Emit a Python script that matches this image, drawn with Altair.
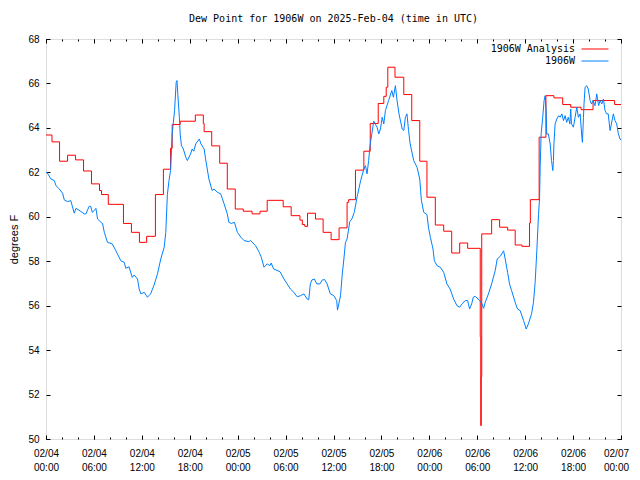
import altair as alt
import pandas as pd

# ---- data (hours since 2025-02-04 00:00 UTC) ----
red_hours = [0.0, 0.75, 1.7, 2.7, 3.7, 4.7, 5.7, 6.7, 6.95, 7.8, 9.7, 10.7, 11.7, 12.6,
             13.7, 14.7, 15.6, 15.8, 16.8, 18.7, 19.7, 19.8, 20.75, 21.75, 22.7, 23.7,
             24.7, 25.8, 26.8, 27.7, 29.7, 30.7, 31.8, 32.1, 32.4, 32.75, 33.75, 34.7,
             35.7, 36.7, 37.7, 37.9, 38.75, 39.8, 40.6, 41.6, 42.3, 42.6, 42.8, 43.7,
             44.8, 45.8, 46.8, 47.7, 48.75, 49.8, 50.8, 51.8, 52.8, 54.375, 54.44, 54.5,
             54.56, 55.8, 56.8, 57.8, 58.75, 59.6, 60.55, 60.65, 61.75, 62.6, 63.6, 64.7,
             65.7, 67.0, 68.5, 71.2, 72.0]
red_values = [63.68, 63.37, 62.5, 62.77, 62.56, 62.06, 61.48, 61.18, 61.0, 60.56, 59.7, 59.3,
              58.85, 59.12, 61.0, 62.14, 63.08, 64.15, 64.3, 64.58, 64.2, 63.83, 63.19, 62.41,
              61.25, 60.35, 60.25, 60.13, 60.25, 60.74, 60.45, 60.05, 59.85, 59.65, 59.57,
              60.16, 59.9, 59.3, 58.97, 59.5, 60.65, 60.77, 62.1, 62.95, 64.2, 65.1, 65.42,
              65.83, 66.73, 66.28, 65.5, 64.33, 62.5, 60.88, 59.63, 59.35, 58.37, 58.82,
              58.58, 54.6, 50.6, 52.8, 59.23, 59.87, 59.53, 59.4, 58.73, 58.67, 59.72, 60.77,
              63.58, 65.45, 65.35, 65.05, 64.93, 64.82, 65.23, 65.05, 65.05]

blue_hours = [0.0, 0.12, 0.62, 1.04, 1.25, 1.67, 2.08, 2.29, 2.7, 3.1, 3.54, 3.75, 4.37, 4.79,
              5.0, 5.4, 5.6, 5.8, 6.04, 6.25, 6.46, 6.88, 7.08, 7.3, 7.7, 8.3, 8.75, 9.37,
              9.8, 10.0, 10.4, 10.8, 11.04, 11.46, 11.67, 11.88, 12.3, 12.7, 13.1, 13.5,
              13.96, 14.37, 14.8, 15.0, 15.2, 15.4, 15.6, 15.8, 16.1, 16.3, 16.4, 16.5, 16.7,
              16.8, 16.96, 17.2, 17.5, 17.7, 18.1, 18.3, 18.5, 18.75, 19.2, 19.4, 19.8, 20.0,
              20.4, 20.8, 21.04, 21.46, 21.88, 22.3, 22.7, 22.9, 23.2, 23.6, 23.96, 24.4,
              24.8, 25.4, 25.6, 26.25, 26.7, 26.96, 27.3, 27.7, 28.04, 28.2, 28.5, 29.3,
              29.8, 30.2, 30.6, 31.04, 31.46, 31.88, 32.3, 32.7, 32.9, 33.1, 33.3, 33.6,
              33.9, 34.3, 34.6, 34.9, 35.2, 35.6, 36.04, 36.4, 36.5, 36.88, 37.1, 37.3, 37.5,
              37.7, 38.04, 38.3, 38.6, 38.96, 39.4, 39.8, 40.0, 40.2, 40.4, 40.6, 40.8, 41.04,
              41.46, 41.67, 41.88, 42.1, 42.3, 42.5, 42.9, 43.3, 43.5, 43.75, 43.96, 44.2,
              44.6, 44.8, 45.0, 45.2, 45.4, 45.6, 46.04, 46.46, 46.8, 47.0, 47.3, 47.7, 47.9,
              48.13, 48.46, 48.63, 48.96, 49.37, 49.8, 50.2, 50.6, 51.04, 51.46, 51.8, 52.1,
              52.5, 52.8, 53.04, 53.3, 53.5, 53.75, 54.3, 54.6, 54.8, 55.0, 55.4, 55.8, 56.25,
              56.5, 56.88, 57.3, 57.5, 57.8, 58.04, 58.3, 58.75, 59.04, 59.37, 59.8, 60.13,
              60.4, 60.8, 61.04, 61.25, 61.46, 61.67, 61.8, 61.88, 62.0, 62.2, 62.37, 62.5,
              62.63, 62.7, 62.9, 63.13, 63.3, 63.46, 63.54, 63.6, 63.75, 63.96, 64.2, 64.37,
              64.6, 64.8, 65.0, 65.2, 65.4, 65.6, 65.7, 65.8, 66.04, 66.25, 66.46, 66.67,
              66.88, 67.1, 67.17, 67.3, 67.37, 67.5, 67.7, 67.9, 68.13, 68.3, 68.5, 68.75,
              68.96, 69.2, 69.37, 69.6, 69.8, 70.0, 70.2, 70.4, 70.63, 70.8, 71.04, 71.25,
              71.46, 71.67, 71.88, 72.0]
blue_values = [62.0, 62.0, 61.7, 61.63, 61.4, 61.25, 61.06, 60.76, 60.68, 60.73, 60.16, 60.38,
               60.24, 60.13, 60.13, 60.47, 60.47, 60.2, 60.28, 60.38, 59.9, 59.75, 59.7, 59.3,
               58.85, 58.78, 58.47, 58.02, 57.95, 57.68, 57.75, 57.27, 57.38, 57.2, 56.75,
               56.53, 56.6, 56.38, 56.53, 56.9, 57.43, 58.1, 58.63, 59.3, 61.0, 61.63, 62.08,
               63.73, 64.78, 66.05, 66.13, 65.53, 64.48, 63.73, 63.2, 63.05, 62.68, 62.53,
               62.83, 63.05, 62.95, 63.28, 63.5, 63.28, 63.05, 62.56, 61.7, 61.18, 61.25, 61.1,
               61.03, 60.58, 60.13, 59.75, 59.7, 59.75, 59.3, 59.08, 58.93, 58.88, 58.93, 58.7,
               58.4, 58.18, 57.73, 57.88, 57.8, 57.92, 57.65, 57.53, 57.2, 56.98, 56.75, 56.6,
               56.4, 56.45, 56.53, 56.3, 56.27, 56.98, 57.16, 57.2, 56.98, 56.98, 57.16, 57.17,
               56.98, 56.53, 56.45, 56.23, 55.8, 56.45, 57.43, 58.1, 58.85, 59.0, 59.78, 59.9,
               60.2, 60.9, 61.63, 62.15, 62.3, 61.93, 62.53, 63.28, 63.73, 64.3, 64.03, 63.73,
               63.95, 64.48, 64.18, 64.78, 65.23, 65.68, 65.38, 65.9, 65.23, 64.63, 63.95,
               63.88, 64.48, 64.63, 63.88, 63.28, 62.53, 62.23, 61.7, 60.75, 60.2, 60.1, 59.5,
               59.08, 58.55, 58.02, 57.8, 57.73, 57.5, 56.98, 56.75, 56.3, 56.0, 55.93, 56.08,
               56.23, 56.23, 55.85, 56.08, 56.38, 56.42, 56.23, 56.08, 55.88, 56.15, 56.53,
               56.98, 57.58, 58.1, 58.22, 58.47, 58.1, 57.5, 56.98, 56.68, 56.15, 55.85, 55.78,
               55.33, 54.95, 55.18, 55.63, 56.15, 57.05, 58.47, 60.1, 60.8, 62.23, 63.73, 64.48,
               65.23, 65.45, 64.78, 63.73, 63.73, 63.28, 62.53, 62.08, 62.53, 63.28, 64.18,
               64.4, 64.55, 64.48, 64.63, 64.33, 64.55, 64.25, 64.48, 64.18, 64.85, 64.18,
               64.03, 64.48, 64.93, 64.48, 64.63, 63.58, 63.35, 64.48, 65.08, 65.83, 65.9,
               65.75, 65.23, 65.08, 65.23, 65.0, 65.53, 65.0, 65.23, 65.08, 65.3, 64.78, 64.63,
               64.63, 63.88, 64.18, 64.63, 64.33, 64.18, 63.73, 63.5, 63.45]

series_names = ["1906W Analysis", "1906W"]
series_colors = ["#ff0000", "#0080ff"]
x_major = list(range(0, 73, 6))
x_minor = list(range(0, 73, 2))
y_major = list(range(50, 69, 2))

red_df = pd.DataFrame({"hour": red_hours, "dewpoint": red_values, "series": series_names[0]})
blue_df = pd.DataFrame({"hour": blue_hours, "dewpoint": blue_values, "series": series_names[1]})

FONT = "DejaVu Sans Mono"
x_scale = alt.Scale(domain=[0, 72], nice=False, zero=False)
y_scale = alt.Scale(domain=[50, 68], nice=False, zero=False)
color_scale = alt.Scale(domain=series_names, range=series_colors)

label_expr = ("['02/0' + (4 + floor(datum.value / 24)), "
              "(datum.value % 24 < 10 ? '0' : '') + (datum.value % 24) + ':00']")

x_label_axis = alt.Axis(orient="bottom", values=x_major, labelExpr=label_expr, ticks=False,
                        tickSize=0, domain=False, title=None, labelPadding=9,
                        labelLineHeight=14, labelBaseline="top", labelFlush=False,
                        labelOverlap=False, grid=False, minExtent=0,
                        labelOffset={"condition": {"test": "datum.value == 72", "value": -5},
                                     "value": 0})
y_label_axis = alt.Axis(orient="left", values=y_major, ticks=False, tickSize=0, domain=False,
                        title="degrees F", titlePadding=8, titleFontWeight="normal",
                        labelPadding=7, labelFlush=False, labelOverlap=False, grid=False,
                        minExtent=0)


def tick_axis(orient, values, length):
    return alt.Axis(orient=orient, values=values, tickSize=length, offset=-length,
                    labels=False, domain=False, title=None, grid=False, minExtent=0,
                    maxExtent=0, tickColor="black", tickWidth=1)


legend = alt.Legend(title=None, orient="none", legendX=544, legendY=5, padding=0,
                    symbolType="M-3,0H3", symbolSize=81, symbolStrokeWidth=1,
                    labelAlign="right", labelOffset=alt.ExprRef(expr="-25"), rowPadding=2,
                    labelFont=FONT, labelFontSize=10, labelColor="black")

red = alt.Chart(red_df).mark_line(interpolate="step-after", strokeWidth=1).encode(
    x=alt.X("hour:Q", scale=x_scale, axis=x_label_axis),
    y=alt.Y("dewpoint:Q", scale=y_scale, axis=y_label_axis),
    color=alt.Color("series:N", scale=color_scale, legend=legend),
)

blue = alt.Chart(blue_df).mark_line(strokeWidth=1).encode(
    x=alt.X("hour:Q", scale=x_scale, axis=tick_axis("bottom", x_major, 4)),
    y=alt.Y("dewpoint:Q", scale=y_scale, axis=tick_axis("left", y_major, 4)),
    color=alt.Color("series:N", scale=color_scale, legend=legend),
)


def tick_layer(x_axis, y_axis):
    return alt.Chart(red_df).mark_line(strokeOpacity=0).encode(
        x=alt.X("hour:Q", scale=x_scale, axis=x_axis),
        y=alt.Y("dewpoint:Q", scale=y_scale, axis=y_axis),
    )


layers = [
    red,
    blue,
    tick_layer(tick_axis("bottom", x_minor, 2), tick_axis("right", y_major, 4)),
    tick_layer(tick_axis("top", x_major, 4), None),
    tick_layer(tick_axis("top", x_minor, 2), None),
]

chart = alt.layer(*layers).resolve_axis(x="independent", y="independent").properties(
    width=575,
    height=400,
    padding={"left": 38, "top": 31, "right": 11, "bottom": 33},
    autosize=alt.AutoSizeParams(type="none"),
    title=alt.Title("Dew Point for 1906W on 2025-Feb-04 (time in UTC)", font=FONT,
                    fontSize=10, fontWeight="normal", color="black", anchor="middle",
                    baseline="alphabetic", offset=2),
).configure_view(stroke="black", strokeWidth=1).configure_axis(
    labelFont=FONT, labelFontSize=10, labelColor="black", titleFont=FONT, titleFontSize=10,
    titleFontWeight="normal", titleColor="black", grid=False, minExtent=0,
).configure(background="white")

chart.save("out.html", embed_options={"renderer": "svg", "actions": False})
